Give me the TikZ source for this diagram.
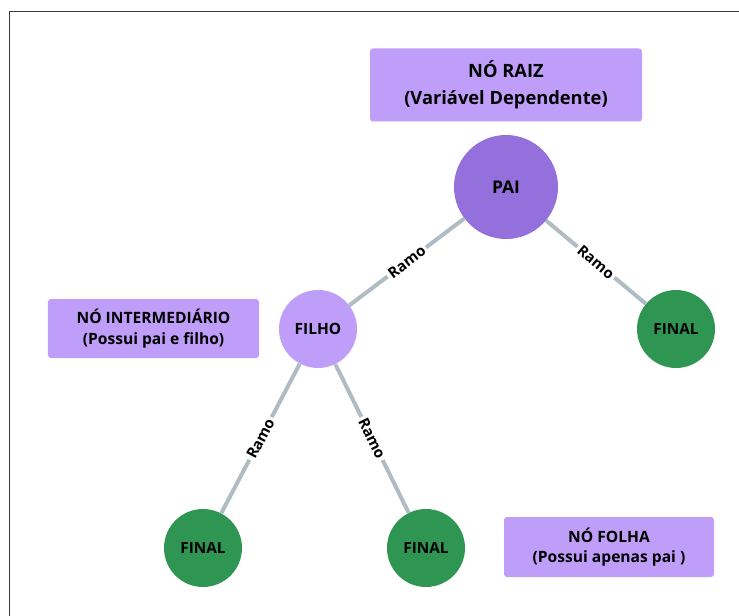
\documentclass[tikz,border=0pt]{standalone}
\usepackage{fontspec}
\setmainfont{Open Sans}
\definecolor{paicol}{RGB}{147,112,219}
\definecolor{lilac}{RGB}{191,158,250}
\definecolor{leaf}{RGB}{46,150,82}
\definecolor{branch}{RGB}{176,188,196}
\definecolor{frame}{RGB}{60,60,60}
\tikzset{
  infobox/.style={fill=lilac, rounded corners=3bp, inner sep=0, align=center, font=\bfseries\fontsize{15.6bp}{20.5bp}\selectfont},
  leafnode/.style={circle, fill=leaf, minimum size=78bp, inner sep=0, font=\bfseries\fontsize{15.3bp}{17bp}\selectfont},
  branchline/.style={draw=branch, line width=4bp},
  ramo/.style={fill=white, inner sep=2.5bp, sloped, font=\bfseries\fontsize{15bp}{16bp}\selectfont}
}
\begin{document}
\begin{tikzpicture}[x=1bp,y=-1bp]
\useasboundingbox (0,0) rectangle (739,616);
\fill[white] (0,0) rectangle (739,616);
\draw[frame, line width=1.5bp] (9.5,616) -- (9.5,11.5) -- (739,11.5);
% info boxes
\node[infobox, minimum width=272bp, minimum height=73bp, font=\bfseries\fontsize{18.3bp}{27bp}\selectfont] (raiz) at (506,85) {NÓ RAIZ\\(Variável Dependente)};
\node[infobox, minimum width=211bp, minimum height=59bp] (inter) at (153.5,328.5) {NÓ INTERMEDIÁRIO\\(Possui pai e filho)};
\node[infobox, minimum width=210bp, minimum height=60bp] (folha) at (609,547) {NÓ FOLHA\\(Possui apenas pai )};
% tree nodes
\node[circle, fill=paicol, minimum size=104bp, inner sep=0, font=\bfseries\fontsize{17.5bp}{19bp}\selectfont] (pai) at (506,187) {PAI};
\node[circle, fill=lilac, minimum size=78bp, inner sep=0, font=\bfseries\fontsize{15.5bp}{17bp}\selectfont] (filho) at (318,329) {FILHO};
\node[leafnode] (f1) at (676,329) {FINAL};
\node[leafnode] (f2) at (203,548) {FINAL};
\node[leafnode] (f3) at (426,548) {FINAL};
% branches
\draw[branchline] (pai) -- node[ramo] {Ramo} (filho);
\draw[branchline] (pai) -- node[ramo] {Ramo} (f1);
\draw[branchline] (filho) -- node[ramo] {Ramo} (f2);
\draw[branchline] (filho) -- node[ramo] {Ramo} (f3);
\end{tikzpicture}
\end{document}
